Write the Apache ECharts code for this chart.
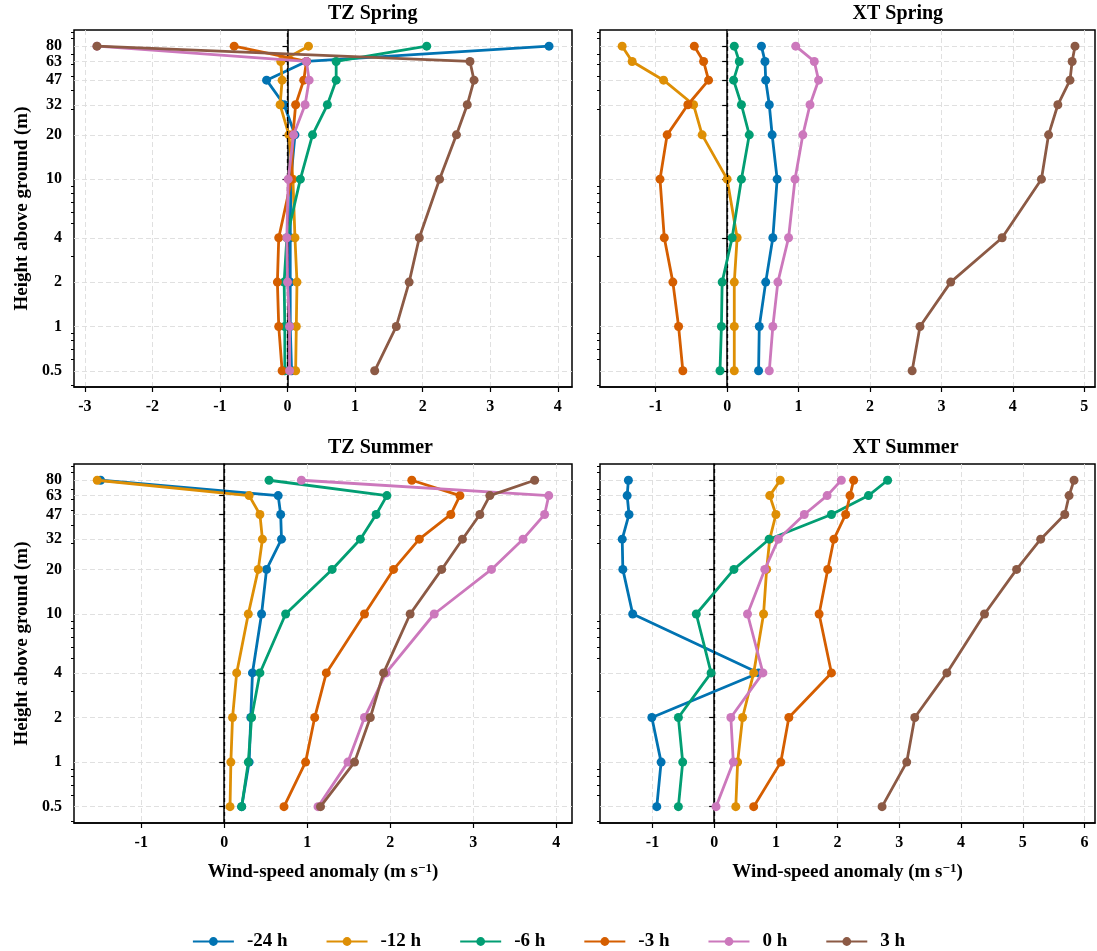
<!DOCTYPE html>
<html><head><meta charset="utf-8">
<script src="https://cdn.jsdelivr.net/npm/echarts@6/dist/echarts.min.js"></script>
<style>html,body{margin:0;padding:0;background:#fff}#c{width:1097px;height:951px}</style>
</head><body><div id="c"></div><script>
// ---------------- data ----------------
const heights = [0.5, 1, 2, 4, 10, 20, 32, 47, 63, 80];
const seriesNames = ['-24 h', '-12 h', '-6 h', '-3 h', '0 h', '3 h'];
const panelTitles = ['TZ Spring', 'XT Spring', 'TZ Summer', 'XT Summer'];
const yTickLabels = [0.5, 1, 2, 4, 10, 20, 32, 47, 63, 80];
const yMinorTicks = [0.4, 0.6, 0.7, 0.8, 0.9, 3, 5, 6, 7, 8, 9, 30, 40, 50, 60, 70, 90, 100];
const xTicksTZSpring = [-3, -2, -1, 0, 1, 2, 3, 4];
const xTicksXTSpring = [-1, 0, 1, 2, 3, 4, 5];
const xTicksTZSummer = [-1, 0, 1, 2, 3, 4];
const xTicksXTSummer = [-1, 0, 1, 2, 3, 4, 5, 6];

// values listed from 0.5 m up to 80 m
const tzSpring_m24 = [0.06, 0.04, 0.04, 0.04, 0.05, 0.11, -0.05, -0.31, 0.28, 3.87];
const tzSpring_m12 = [0.12, 0.13, 0.14, 0.11, 0.08, 0.02, -0.11, -0.08, -0.10, 0.31];
const tzSpring_m6  = [-0.04, -0.04, -0.05, -0.01, 0.19, 0.37, 0.59, 0.72, 0.72, 2.06];
const tzSpring_m3  = [-0.08, -0.13, -0.15, -0.13, 0.06, 0.08, 0.12, 0.24, 0.28, -0.79];
const tzSpring_h0  = [0.03, 0.03, 0.00, -0.01, 0.01, 0.09, 0.26, 0.32, 0.28, -2.82];
const tzSpring_h3  = [1.29, 1.61, 1.80, 1.95, 2.25, 2.50, 2.66, 2.76, 2.70, -2.82];

const xtSpring_m24 = [0.44, 0.45, 0.54, 0.64, 0.70, 0.63, 0.59, 0.54, 0.53, 0.48];
const xtSpring_m12 = [0.10, 0.10, 0.10, 0.14, 0.00, -0.35, -0.47, -0.89, -1.33, -1.47];
const xtSpring_m6  = [-0.10, -0.08, -0.07, 0.07, 0.20, 0.31, 0.20, 0.09, 0.17, 0.10];
const xtSpring_m3  = [-0.62, -0.68, -0.76, -0.88, -0.94, -0.84, -0.55, -0.26, -0.33, -0.46];
const xtSpring_h0  = [0.59, 0.64, 0.71, 0.86, 0.95, 1.06, 1.16, 1.28, 1.22, 0.96];
const xtSpring_h3  = [2.59, 2.70, 3.13, 3.85, 4.40, 4.50, 4.63, 4.80, 4.83, 4.87];

const tzSummer_m24 = [0.21, 0.30, 0.32, 0.34, 0.45, 0.51, 0.69, 0.68, 0.65, -1.49];
const tzSummer_m12 = [0.07, 0.08, 0.10, 0.15, 0.29, 0.41, 0.46, 0.43, 0.30, -1.53];
const tzSummer_m6  = [0.21, 0.29, 0.33, 0.43, 0.74, 1.30, 1.64, 1.83, 1.96, 0.54];
const tzSummer_m3  = [0.72, 0.98, 1.09, 1.23, 1.69, 2.04, 2.35, 2.73, 2.84, 2.26];
const tzSummer_h0  = [1.13, 1.49, 1.69, 1.95, 2.53, 3.22, 3.60, 3.86, 3.91, 0.93];
const tzSummer_h3  = [1.16, 1.57, 1.76, 1.92, 2.24, 2.62, 2.87, 3.08, 3.20, 3.74];

const xtSummer_m24 = [-0.93, -0.86, -1.01, 0.72, -1.32, -1.48, -1.49, -1.38, -1.41, -1.39];
const xtSummer_m12 = [0.35, 0.38, 0.46, 0.64, 0.80, 0.85, 0.90, 1.00, 0.90, 1.07];
const xtSummer_m6  = [-0.58, -0.51, -0.58, -0.05, -0.29, 0.32, 0.89, 1.90, 2.50, 2.81];
const xtSummer_m3  = [0.64, 1.08, 1.21, 1.90, 1.70, 1.84, 1.94, 2.13, 2.20, 2.26];
const xtSummer_h0  = [0.03, 0.31, 0.27, 0.79, 0.54, 0.82, 1.04, 1.46, 1.83, 2.06];
const xtSummer_h3  = [2.72, 3.12, 3.25, 3.77, 4.38, 4.90, 5.29, 5.68, 5.75, 5.83];

// ---------------- style / layout ----------------
const colors = ['#0173B2', '#DE8F05', '#029E73', '#D55E00', '#CC78BC', '#8C5A45'];
const FONT = 'Liberation Serif';
const panels = [
  { title: panelTitles[0], grid: { left: 74, top: 30, width: 498, height: 357 }, xMin: -3.16, xMax: 4.21, xTicks: xTicksTZSpring, showY: true, showXName: false,
    vals: [tzSpring_m24, tzSpring_m12, tzSpring_m6, tzSpring_m3, tzSpring_h0, tzSpring_h3] },
  { title: panelTitles[1], grid: { left: 600, top: 30, width: 495, height: 357 }, xMin: -1.78, xMax: 5.15, xTicks: xTicksXTSpring, showY: false, showXName: false,
    vals: [xtSpring_m24, xtSpring_m12, xtSpring_m6, xtSpring_m3, xtSpring_h0, xtSpring_h3] },
  { title: panelTitles[2], grid: { left: 74, top: 464, width: 498, height: 359 }, xMin: -1.81, xMax: 4.19, xTicks: xTicksTZSummer, showY: true, showXName: true,
    vals: [tzSummer_m24, tzSummer_m12, tzSummer_m6, tzSummer_m3, tzSummer_h0, tzSummer_h3] },
  { title: panelTitles[3], grid: { left: 600, top: 464, width: 495, height: 359 }, xMin: -1.85, xMax: 6.17, xTicks: xTicksXTSummer, showY: false, showXName: true,
    vals: [xtSummer_m24, xtSummer_m12, xtSummer_m6, xtSummer_m3, xtSummer_h0, xtSummer_h3] }
];
const Y_MIN = 0.388, Y_MAX = 103;
// the 63 m label sits very close to 80 m; it is drawn by a second (overlaid) axis so ECharts does not drop it
const yLabelsMain = yTickLabels.filter(v => v !== 63);
const yLabelsAlt = yTickLabels.filter(v => v === 63);

const labelStyle = { fontFamily: FONT, fontWeight: 'bold', fontSize: 16, color: '#000' };
const grids = [], xAxes = [], yAxes = [], series = [], titles = [];
panels.forEach((p, i) => {
  grids.push(Object.assign({ show: true, borderColor: '#000', borderWidth: 1.5, backgroundColor: 'transparent' }, p.grid));
  titles.push({ text: p.title, left: p.grid.left + p.grid.width / 2, top: p.grid.top - 31, textAlign: 'left',
    textStyle: { fontFamily: FONT, fontWeight: 'bold', fontSize: 20, color: '#000' } });
  xAxes.push({
    type: 'value', gridIndex: i, min: p.xMin, max: p.xMax,
    name: p.showXName ? '{a|Wind-speed anomaly (m s}{s|\u22121}{a|)}' : '',
    nameLocation: 'middle', nameGap: 39,
    nameTextStyle: { rich: {
      a: { fontFamily: FONT, fontWeight: 'bold', fontSize: 19, color: '#000' },
      s: { fontFamily: FONT, fontWeight: 'bold', fontSize: 13, color: '#000', verticalAlign: 'top', padding: [0, 0, 8, 0] } } },
    axisLine: { show: true, onZero: false, lineStyle: { color: '#000', width: 1.5 } },
    axisTick: { show: true, customValues: p.xTicks, length: 5, lineStyle: { color: '#000', width: 1.2 } },
    axisLabel: Object.assign({ show: true, customValues: p.xTicks, margin: 12, hideOverlap: false }, labelStyle),
    splitLine: { show: true, lineStyle: { color: '#dcdcdc', type: [5, 3], width: 0.9 } }
  });
  yAxes.push({
    type: 'log', logBase: 10, gridIndex: i, min: Y_MIN, max: Y_MAX, position: 'left',
    name: p.showY ? 'Height above ground (m)' : '', nameLocation: 'middle', nameGap: 42, nameRotate: 90,
    nameTextStyle: { fontFamily: FONT, fontWeight: 'bold', fontSize: 19, color: '#000' },
    axisLine: { show: true, lineStyle: { color: '#000', width: 1.5 } },
    axisTick: { show: true, customValues: yTickLabels, length: 5, lineStyle: { color: '#000', width: 1.2 } },
    axisLabel: Object.assign({ show: p.showY, customValues: yLabelsMain, margin: 12, hideOverlap: false, formatter: v => String(v) }, labelStyle),
    splitLine: { show: true, lineStyle: { color: '#dcdcdc', type: [5, 3], width: 0.9 } }
  });
  yAxes.push({
    type: 'log', logBase: 10, gridIndex: i, min: Y_MIN, max: Y_MAX, position: 'left',
    axisLine: { show: false },
    axisTick: { show: true, customValues: yMinorTicks, length: 3, lineStyle: { color: '#000', width: 1 } },
    axisLabel: Object.assign({ show: p.showY, customValues: yLabelsAlt, margin: 12, hideOverlap: false, formatter: v => String(v) }, labelStyle),
    splitLine: { show: false }
  });
  p.vals.forEach((arr, k) => {
    const s = {
      name: seriesNames[k], type: 'line', xAxisIndex: i, yAxisIndex: 2 * i,
      data: heights.map((h, j) => [arr[j], h]),
      symbol: 'circle', symbolSize: 9, showSymbol: true,
      lineStyle: { color: colors[k], width: 2.8 },
      itemStyle: { color: colors[k] },
      z: 3 + k, animation: false
    };
    if (k === 0) {
      s.markLine = { silent: true, symbol: ['none', 'none'], label: { show: false },
        lineStyle: { color: '#000', type: [4, 3], width: 1.3 }, data: [{ xAxis: 0 }], animation: false };
    }
    series.push(s);
  });
});

const chart = echarts.init(document.getElementById('c'), null, { renderer: 'canvas' });
chart.setOption({
  animation: false,
  backgroundColor: '#fff',
  color: colors,
  title: titles,
  grid: grids,
  xAxis: xAxes,
  yAxis: yAxes,
  legend: {
    data: seriesNames, top: 927, left: 'center', itemWidth: 41, itemHeight: 11, itemGap: 38,
    textStyle: { fontFamily: FONT, fontWeight: 'bold', fontSize: 19, color: '#000', padding: [0, 0, 0, 8] }
  },
  series: series
});
</script></body></html>
